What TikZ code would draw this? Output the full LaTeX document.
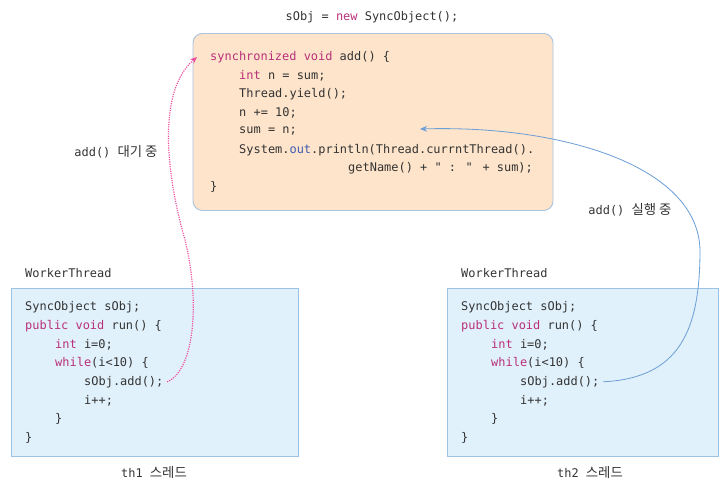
\documentclass[tikz,border=0pt]{standalone}
\usepackage{fontspec}
\setmainfont{DejaVu Sans Mono}
\newfontfamily\kr[Scale=1.12]{Noto Sans CJK KR}
\usetikzlibrary{arrows.meta,positioning}
\definecolor{codetext}{HTML}{333333}
\definecolor{keyword}{HTML}{B8307A}
\definecolor{fieldblue}{HTML}{3E5BB0}
\definecolor{lockfill}{HTML}{FDE4CA}
\definecolor{lockline}{HTML}{A9C4E0}
\definecolor{threadfill}{HTML}{E1F1FB}
\definecolor{threadline}{HTML}{9CC3E3}
\definecolor{waitpink}{HTML}{EC4F9E}
\definecolor{runblue}{HTML}{6D9FD6}
\newcommand{\kw}[1]{\textcolor{keyword}{#1}}

\begin{document}
\begin{tikzpicture}[x=0.03cm,y=-0.03cm,
	codeline/.style={anchor=west,inner sep=0pt,text=codetext,font=\fontsize{10.2}{12}\selectfont},
	caption/.style={inner sep=0pt,text=codetext,font=\fontsize{10.2}{12}\selectfont},
	lockbox/.style={draw=lockline,fill=lockfill,rounded corners=8pt,line width=0.8pt},
	workbox/.style={draw=threadline,fill=threadfill,line width=0.8pt},
	waitarrow/.style={draw=waitpink,densely dotted,line width=1pt,-{Stealth[length=6pt,width=5pt]}},
	runarrow/.style={draw=runblue,line width=0.7pt,-{Stealth[length=6pt,width=5pt]}}]
	\useasboundingbox (0,0) rectangle (724,481);
	% shared object
	\node[caption] (newobj) at (372,17) {sObj = \kw{new} SyncObject();};
	\node[lockbox,minimum width=360*0.03cm,minimum height=177*0.03cm] (lock) at (373,122) {};
	\node[codeline] (sync) at (210,57) {\kw{synchronized void} add() \{};
	\node[codeline] (nline) at (239,75.6) {\kw{int} n = sum;};
	\node[codeline] (yield) at (239,94.2) {Thread.yield();};
	\node[codeline] (plus) at (239,112.8) {n += 10;};
	\node[codeline] (sumline) at (239,131.4) {sum = n;};
	\node[codeline] (print) at (239,150) {System.\textcolor{fieldblue}{out}.println(Thread.currntThread().};
	\node[codeline] (getname) at (348,168.6) {getName() + \textquotedbl{} : \textquotedbl{} + sum);};
	\node[codeline] (syncend) at (210,187.2) {\}};
	% the two threads
	\foreach \idx/\dx/\w in {1/0/287,2/436/271} {
		\node[workbox,minimum width=\w*0.03cm,minimum height=168*0.03cm] (th\idx-box) at ({11+\dx+\w/2},372) {};
		\node[codeline] (th\idx-cls) at (25+\dx,273) {WorkerThread};
		\node[codeline] (th\idx-decl) at (25+\dx,307) {SyncObject sObj;};
		\node[codeline] (th\idx-run) at (25+\dx,325.7) {\kw{public void} run() \{};
		\node[codeline] (th\idx-init) at (55+\dx,344.4) {\kw{int} i=0;};
		\node[codeline] (th\idx-loop) at (55+\dx,363.1) {\kw{while}(i<10) \{};
		\node[codeline] (th\idx-call) at (84+\dx,381.8) {sObj.add();};
		\node[codeline] (th\idx-inc) at (84+\dx,400.5) {i++;};
		\node[codeline] (th\idx-loopend) at (55+\dx,419.2) {\}};
		\node[codeline] (th\idx-runend) at (25+\dx,437.9) {\}};
		\node[caption] (th\idx-cap) at (154+\dx,472) {th\idx{} {\kr 스레드}};
	}
	% state labels
	\node[caption] (waitlbl) at (116,152) {add() {\kr 대기 중}};
	\node[caption] (runlbl) at (630,210) {add() {\kr 실행 중}};
	\coordinate (runend) at (420,129);
	\draw[waitarrow] ([xshift=3pt]th1-call.east) .. controls (195,370) and (200,300) .. (185,240)
		.. controls (165,170) and (158,90) .. ([xshift=-11pt]sync.west);
	\draw[runarrow] ([xshift=3pt]th2-call.east) .. controls (680,378) and (700,330) .. (700,250)
		.. controls (698,165) and (560,125) .. (runend);
\end{tikzpicture}
\end{document}
